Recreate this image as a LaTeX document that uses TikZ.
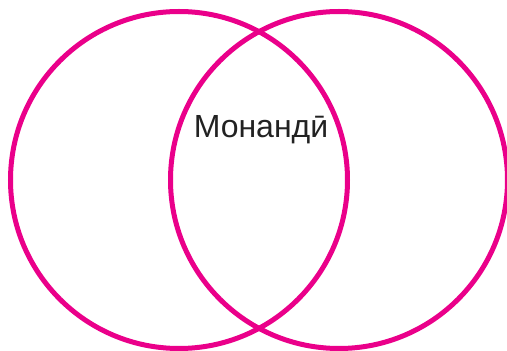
\documentclass[tikz,border=0pt]{standalone}
\usepackage{fontspec}
\setmainfont{Liberation Sans}
\definecolor{vennpink}{RGB}{234,0,138}
\definecolor{labelgray}{RGB}{34,34,34}

\newcommand*{\ringr}{171}
\newcommand*{\ringy}{171}

\begin{document}
\begin{tikzpicture}
[
	ring/.style={circle,draw=vennpink,line width=5pt,inner sep=0pt,minimum size=2*\ringr pt - 5pt},
	label text/.style={text=labelgray,font=\fontsize{32}{36}\selectfont,inner sep=0pt},
	x=1pt,
	y=1pt
]
	\useasboundingbox (0,0) rectangle (507,351);

	% circles
	\node[ring] (leftring) at (179,\ringy) {};
	\node[ring] (rightring) at (339,\ringy) {};

	% common part
	\node[label text] (common) at (261,221) {Монандӣ};

\end{tikzpicture}
\end{document}
